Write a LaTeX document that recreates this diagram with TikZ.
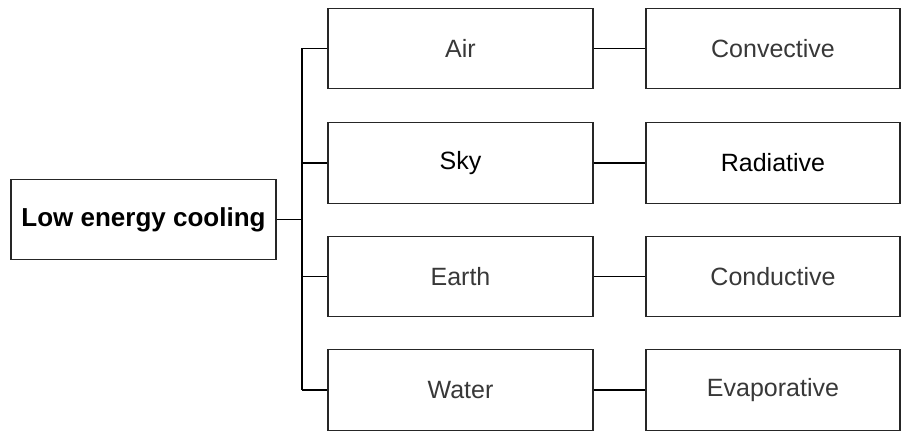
\documentclass[tikz,border=0pt]{standalone}
\usepackage{fontspec}
\setmainfont{Liberation Sans}
\begin{document}
\begin{tikzpicture}[x=1pt,y=1pt,
  box/.style={draw=black!85,line width=1.3pt,rectangle,inner sep=0pt,
    minimum height=80.5pt,font=\fontsize{25}{30}\selectfont},
  midbox/.style={box,minimum width=265pt},
  sidebox/.style={box,minimum width=254pt},
  lighttext/.style={text=black!78},
  strongtext/.style={text=black},
  link/.style={line width=1.3pt,draw=black}]
\useasboundingbox (0,0) rectangle (902,432);
% root
\node[box,minimum width=265pt,font=\fontsize{26}{31}\selectfont\bfseries]
  (root) at (143.5,212.5) {Low energy cooling};
% sources
\node[midbox,lighttext]  (air)   at (460.5,383.5) {Air};
\node[midbox,strongtext] (sky)   at (460.5,269)   {Sky};
\node[midbox,lighttext]  (earth) at (460.5,155.5) {Earth};
\node[midbox,lighttext]  (water) at (460.5,42)    {Water};
% mechanisms
\node[sidebox,lighttext]  (conv) at (773,383.5) {Convective};
\node[sidebox,strongtext] (rad)  at (773,269)   {Radiative};
\node[sidebox,lighttext]  (cond) at (773,155.5) {Conductive};
\node[sidebox,lighttext]  (evap) at (773,42)    {Evaporative};
% bus
\coordinate (bt) at (302,383.5);
\coordinate (bb) at (302,42);
\draw[link] (bt) -- (bb);
\draw[link] (root.east) -- (root.east -| bt);
\foreach \n in {air,sky,earth,water}
  \draw[link] (\n.west) -- (\n.west -| bt);
\draw[link] (air.east) -- (conv.west);
\draw[link] (sky.east) -- (rad.west);
\draw[link] (earth.east) -- (cond.west);
\draw[link] (water.east) -- (evap.west);
\end{tikzpicture}
\end{document}
